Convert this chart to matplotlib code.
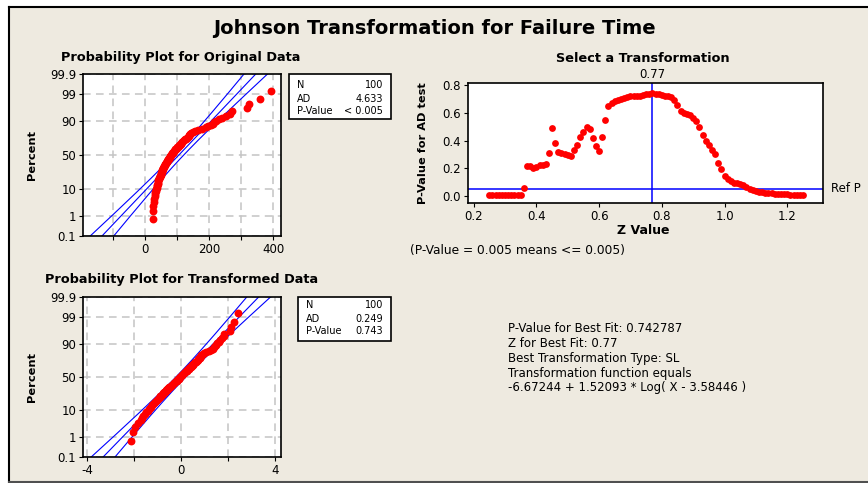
import numpy as np
import matplotlib
matplotlib.use('Agg')
import matplotlib.pyplot as plt
from matplotlib.patches import Rectangle
from matplotlib.lines import Line2D
from statistics import NormalDist

# ---------------- data ----------------
failure_time = [
    23.5, 24.5, 25.5, 28, 29.5, 30.5, 31.5, 32.5, 33.5, 35,
    36, 37, 38, 39, 40, 41, 42, 43, 44, 45.5,
    46.5, 47.5, 48.5, 49.5, 50.5, 51.5, 52.5, 53.5, 54.5, 55.5,
    56.5, 57.5, 58.5, 59.5, 61, 62, 63.5, 65, 66, 67.5,
    69, 70, 71.5, 73, 74.5, 76, 77, 78.5, 79.5, 80.5,
    82, 83.5, 85, 86.5, 88, 90, 91.5, 93, 95, 97,
    99, 101, 103, 105, 107, 109, 111, 113, 115, 117,
    120, 123, 126, 129, 132, 134, 136, 138, 140, 142,
    144, 150, 157, 166, 178, 189, 198, 206, 213, 217,
    223, 232, 242, 254, 266, 271, 318, 326, 359, 394,
]

# Johnson SL transformation reported in the chart
tr_const = -6.67244
tr_slope = 1.52093
tr_shift = 3.58446

z_values = [
    0.25, 0.26, 0.27, 0.28, 0.29, 0.30, 0.31, 0.32, 0.33, 0.34, 0.35,
    0.36, 0.37, 0.38, 0.39, 0.40, 0.41, 0.42, 0.43, 0.44, 0.45,
    0.46, 0.47, 0.48, 0.49, 0.50, 0.51, 0.52, 0.53, 0.54, 0.55,
    0.56, 0.57, 0.58, 0.59, 0.60, 0.61, 0.62, 0.63, 0.64, 0.65,
    0.66, 0.67, 0.68, 0.69, 0.70, 0.71, 0.72, 0.73, 0.74, 0.75,
    0.76, 0.77, 0.78, 0.79, 0.80, 0.81, 0.82, 0.83, 0.84, 0.85,
    0.86, 0.87, 0.88, 0.89, 0.90, 0.91, 0.92, 0.93, 0.94, 0.95,
    0.96, 0.97, 0.98, 0.99, 1.00, 1.01, 1.02, 1.03, 1.04, 1.05,
    1.06, 1.07, 1.08, 1.09, 1.10, 1.11, 1.12, 1.13, 1.14, 1.15,
    1.16, 1.17, 1.18, 1.19, 1.20, 1.21, 1.22, 1.23, 1.24, 1.25,
]
p_values = [
    0.005, 0.005, 0.005, 0.005, 0.005, 0.005, 0.005, 0.005, 0.005, 0.005, 0.005,
    0.056, 0.215, 0.215, 0.200, 0.210, 0.220, 0.220, 0.230, 0.310, 0.490,
    0.385, 0.320, 0.310, 0.300, 0.295, 0.290, 0.330, 0.370, 0.425, 0.465,
    0.500, 0.480, 0.415, 0.360, 0.325, 0.425, 0.550, 0.650, 0.675, 0.690,
    0.695, 0.700, 0.710, 0.715, 0.720, 0.720, 0.725, 0.725, 0.730, 0.735,
    0.740, 0.743, 0.740, 0.735, 0.730, 0.725, 0.720, 0.715, 0.695, 0.660,
    0.615, 0.600, 0.595, 0.585, 0.565, 0.540, 0.495, 0.440, 0.395, 0.365,
    0.330, 0.300, 0.240, 0.190, 0.145, 0.120, 0.105, 0.095, 0.090, 0.085,
    0.075, 0.060, 0.050, 0.042, 0.035, 0.030, 0.026, 0.022, 0.019, 0.016,
    0.014, 0.013, 0.012, 0.011, 0.010, 0.008, 0.007, 0.006, 0.005, 0.005,
]
best_z = 0.77
ref_p = 0.05

pct_ticks = [0.1, 1, 10, 50, 90, 99, 99.9]
pct_labels = ['0.1', '1', '10', '50', '90', '99', '99.9']
orig_xticks = [-100, 0, 100, 200, 300, 400]
orig_xlabels = ['', '0', '', '200', '', '400']
tr_xticks = [-4, -2, 0, 2, 4]
tr_xlabels = ['-4', '', '0', '', '4']
sel_xticks = [0.2, 0.4, 0.6, 0.8, 1.0, 1.2]
sel_xlabels = ['0.2', '0.4', '0.6', '0.8', '1.0', '1.2']
sel_yticks = [0.0, 0.2, 0.4, 0.6, 0.8]
sel_ylabels = ['0.0', '0.2', '0.4', '0.6', '0.8']
stats_orig = [('N', '100'), ('AD', '4.633'), ('P-Value', '< 0.005')]
stats_tr = [('N', '100'), ('AD', '0.249'), ('P-Value', '0.743')]
info_lines = [
    'P-Value for Best Fit: 0.742787',
    'Z for Best Fit: 0.77',
    'Best Transformation Type: SL',
    'Transformation function equals',
    '-6.67244 + 1.52093 * Log( X - 3.58446 )',
]

# ---------------- figure ----------------
W, H = 868, 483
BG = '#EEEAE0'
plt.rcParams['font.family'] = ['DejaVu Sans']
fig = plt.figure(figsize=(W / 100, H / 100), dpi=100, facecolor='white')


def fx(x):
    return x / W


def fy(y):
    return 1 - y / H


def rect(x0, y0, x1, y1):
    return [fx(x0), fy(y1), (x1 - x0) / W, (y1 - y0) / H]


# beige panel with border on top, left and bottom only
fig.add_artist(Rectangle((fx(9), fy(482)), 1.0, (482 - 6.5) / H,
                         transform=fig.transFigure, facecolor=BG,
                         edgecolor='none', zorder=0))
for xs, ys, col in (([9, W + 5], [6.5, 6.5], 'black'),
                    ([9, 9], [6.5, 482], 'black'),
                    ([9, W + 5], [482, 482], '#505050')):
    fig.add_artist(Line2D([fx(v) for v in xs], [fy(v) for v in ys],
                          transform=fig.transFigure, color=col, lw=1.5,
                          zorder=0.5))

nd = NormalDist()
zlim = nd.inv_cdf(0.999)


def prob_panel(r, data, xlim, xticks, xlabels):
    ax = fig.add_axes(r)
    ax.set_facecolor('white')
    x = np.sort(np.asarray(data, dtype=float))
    n = len(x)
    pp = (np.arange(1, n + 1) - 0.3) / (n + 0.4)
    zq = np.array([nd.inv_cdf(p) for p in pp])
    mu, s = x.mean(), x.std(ddof=1)
    zl = np.linspace(-3.6, 3.6, 300)
    centre = mu + s * zl
    half = 1.96 * s * np.sqrt((1 + zl ** 2 / 2) / n)
    for line in (centre - half, centre, centre + half):
        ax.plot(line, zl, color='#0000FF', lw=0.8, zorder=2)
    ax.scatter(x, zq, s=32, color='#FF0000', zorder=3, linewidths=0)
    ax.set_xlim(*xlim)
    ax.set_ylim(-zlim, zlim)
    ax.set_yticks([nd.inv_cdf(p / 100) for p in pct_ticks])
    ax.set_yticklabels(pct_labels)
    ax.set_xticks(xticks)
    ax.set_xticklabels(xlabels)
    ax.grid(True, ls=(0, (5, 3.5)), color='#C4C4C4', lw=1.1, zorder=1)
    ax.set_axisbelow(True)
    ax.tick_params(labelsize=8.5, length=3, width=0.8, pad=2, colors='black')
    for sp in ax.spines.values():
        sp.set_linewidth(1.2)
    return ax


# Panel 1: original data
ax1 = prob_panel(rect(83, 74, 281, 236), failure_time, (-194, 425),
                 orig_xticks, orig_xlabels)
fig.text(fx(181), fy(58), 'Probability Plot for Original Data',
         ha='center', va='center', fontsize=9.3, fontweight='bold')
fig.text(fx(32), fy(155), 'Percent', rotation=90, ha='center', va='center',
         fontsize=8.2, fontweight='bold')

# Panel 2: transformed data
transformed = [tr_const + tr_slope * np.log(v - tr_shift) for v in failure_time]
ax2 = prob_panel(rect(83, 297, 281, 457), transformed, (-4.17, 4.24),
                 tr_xticks, tr_xlabels)
fig.text(fx(181.5), fy(279), 'Probability Plot for Transformed Data',
         ha='center', va='center', fontsize=9.3, fontweight='bold')
fig.text(fx(32), fy(377), 'Percent', rotation=90, ha='center', va='center',
         fontsize=8.2, fontweight='bold')


def stat_box(x0, y0, x1, y1, rows, ys, xl, xr):
    fig.add_artist(Rectangle((fx(x0), fy(y1)), (x1 - x0) / W, (y1 - y0) / H,
                             transform=fig.transFigure, facecolor='white',
                             edgecolor='black', lw=1.2, zorder=1))
    for (lab, val), yy in zip(rows, ys):
        fig.text(fx(xl), fy(yy), lab, ha='left', va='center', fontsize=7)
        fig.text(fx(xr), fy(yy), val, ha='right', va='center', fontsize=7)


stat_box(289, 74.5, 391, 119, stats_orig, [84.5, 98.5, 110.5], 297, 383)
stat_box(298, 297, 391, 341, stats_tr, [305, 319.5, 331], 306, 383)

# Panel 3: select a transformation
ax3 = fig.add_axes(rect(468, 83, 823, 203))
ax3.set_facecolor('white')
ax3.scatter(z_values, p_values, s=24, color='#FF0000', zorder=3, linewidths=0)
ax3.axvline(best_z, color='#0000FF', lw=1.1, zorder=2)
ax3.axhline(ref_p, color='#0000FF', lw=1.1, zorder=2)
ax3.set_xlim(0.182, 1.314)
ax3.set_ylim(-0.053, 0.817)
ax3.set_xticks(sel_xticks)
ax3.set_xticklabels(sel_xlabels)
ax3.set_yticks(sel_yticks)
ax3.set_yticklabels(sel_ylabels)
ax3.tick_params(labelsize=8.5, length=3, width=0.8, pad=2, colors='black')
for sp in ax3.spines.values():
    sp.set_linewidth(1.2)
ax3.text(best_z, 1.067, f'{best_z:.2f}', transform=ax3.get_xaxis_transform(),
         ha='center', va='center', fontsize=8.5)
ax3.text(1.023, ref_p, 'Ref P', transform=ax3.get_yaxis_transform(),
         ha='left', va='center', fontsize=8.5)
fig.text(fx(643), fy(58), 'Select a Transformation', ha='center', va='center',
         fontsize=9.3, fontweight='bold')
fig.text(fx(643), fy(231), 'Z Value', ha='center', va='center',
         fontsize=9, fontweight='bold')
fig.text(fx(423), fy(143), 'P-Value for AD test', rotation=90, ha='center',
         va='center', fontsize=8.2, fontweight='bold')
fig.text(fx(410), fy(251), '(P-Value = 0.005 means <= 0.005)', ha='left',
         va='center', fontsize=8.8)

# Info block
for i, line in enumerate(info_lines):
    fig.text(fx(508), fy(328.3 + i * 14.9), line, ha='left', va='center',
             fontsize=8.5)

# Main title
fig.text(fx(434), fy(29), 'Johnson Transformation for Failure Time',
         ha='center', va='center', fontsize=14, fontweight='bold')

fig.savefig('out.png', dpi=100, facecolor='white')
